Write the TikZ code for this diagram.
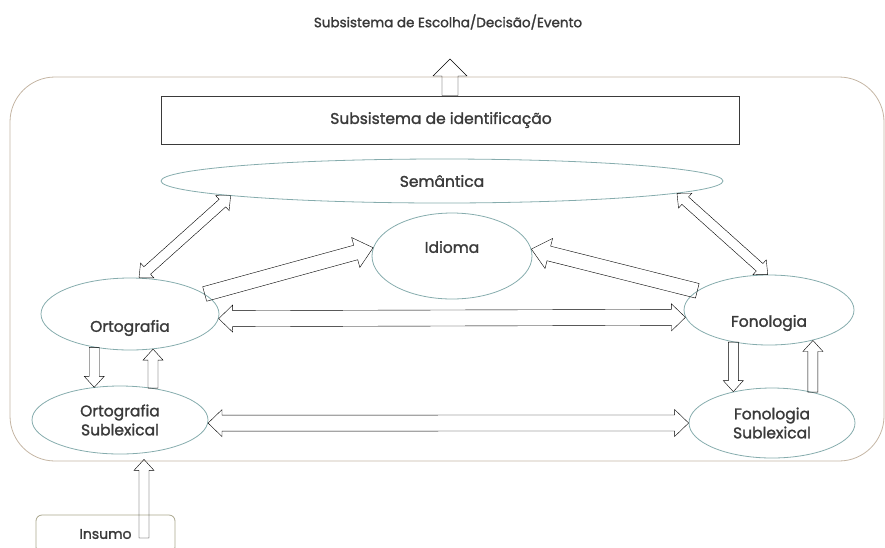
\documentclass[tikz,border=0pt]{standalone}
\usepackage{fontspec}
\setmainfont{Poppins}[FakeBold=1.5]
\usetikzlibrary{calc,positioning}
\usetikzlibrary{shapes.geometric}

\definecolor{ovalline}{HTML}{86ACAD}
\definecolor{frameline}{HTML}{C4B5A3}
\definecolor{boxline}{HTML}{A9A68C}
\definecolor{arrowgray}{HTML}{3A3A3A}
\definecolor{textgray}{HTML}{3A3A3A}

\tikzset{
  ba shaft/.store in=\bashaft, ba head/.store in=\bahead, ba tip/.store in=\batip,
  ba shaft=5pt, ba head=10pt, ba tip=13pt,
  block arrow/.style={draw=arrowgray, fill=white, line width=1pt,
    to path={
      ($(\tikztotarget)!\batip!(\tikztostart)$) coordinate (ba b)
      ($(\tikztostart)!\bashaft!90:(\tikztotarget)$) -- ($(ba b)!\bashaft!90:(\tikztotarget)$)
      -- ($(ba b)!\bahead!90:(\tikztotarget)$) -- (\tikztotarget)
      -- ($(ba b)!\bahead!-90:(\tikztotarget)$) -- ($(ba b)!\bashaft!-90:(\tikztotarget)$)
      -- ($(\tikztostart)!\bashaft!-90:(\tikztotarget)$) -- cycle}},
  double block arrow/.style={draw=arrowgray, fill=white, line width=1pt,
    to path={
      ($(\tikztostart)!\batip!(\tikztotarget)$) coordinate (ba a)
      ($(\tikztotarget)!\batip!(\tikztostart)$) coordinate (ba b)
      (\tikztostart) -- ($(ba a)!\bahead!90:(\tikztotarget)$) -- ($(ba a)!\bashaft!90:(\tikztotarget)$)
      -- ($(ba b)!\bashaft!90:(\tikztotarget)$) -- ($(ba b)!\bahead!90:(\tikztotarget)$) -- (\tikztotarget)
      -- ($(ba b)!\bahead!-90:(\tikztotarget)$) -- ($(ba b)!\bashaft!-90:(\tikztotarget)$)
      -- ($(ba a)!\bashaft!-90:(\tikztotarget)$) -- ($(ba a)!\bahead!-90:(\tikztotarget)$) -- cycle}}
}

\begin{document}
\begin{tikzpicture}
	[x=1pt,y=-1pt,
	every node/.style={text=textgray,font=\fontsize{15.5}{19}\selectfont},
	every label/.style={text=textgray,font=\fontsize{15.5}{19}\selectfont},
	oval/.style={shape=ellipse,draw=ovalline,line width=.8pt,inner sep=0pt,align=center},
	big/.style={ba shaft=8pt,ba head=17pt,ba tip=17pt},
	wide/.style={ba shaft=7.5pt,ba head=15.5pt,ba tip=18pt},
	mid/.style={ba shaft=8pt,ba head=13.5pt,ba tip=14pt},
	small/.style={ba shaft=5pt,ba head=10pt,ba tip=11pt}
	]
	\useasboundingbox (0,0) rectangle (885,547);
	\clip (0,0) rectangle (885,547);

	\draw[draw=frameline,line width=.8pt,rounded corners=45] (10,77) rectangle (884,461);

	\node [font=\fontsize{13.5}{16}\selectfont] (escolha) at (448,22) {Subsistema de Escolha/Decisão/Evento};
	\node [draw=arrowgray,line width=1pt,minimum width=578,minimum height=48,inner sep=0pt] (ident) at (450,120) {\hspace*{-18pt}Subsistema de identificação};

	\node [oval,minimum width=562,minimum height=44] (sem) at (442,181) {Semântica};
	\node [oval,minimum width=160,minimum height=86,label={[yshift=9pt]center:Idioma}] (idioma) at (452,256) {};
	\node [oval,minimum width=178,minimum height=72,label={[yshift=-14pt]center:Ortografia}] (orto) at (130,314) {};
	\node [oval,minimum width=170,minimum height=70,label={[yshift=-13pt]center:Fonologia}] (fono) at (769,310) {};
	\node [oval,minimum width=176,minimum height=68] (osub) at (120,420) {Ortografia\\Sublexical};
	\node [oval,minimum width=166,minimum height=70] (fsub) at (772,423) {Fonologia\\Sublexical};

	\node [draw=boxline,line width=.8pt,rounded corners=6,minimum width=139,minimum height=38,font=\fontsize{14}{17}\selectfont] (insumo) at (105.5,534) {Insumo};

	\coordinate (saida) at (450,59);
	\coordinate (insumo out) at (144,538);

	% setas
	\draw[big] (ident.north) to[block arrow] (saida);
	\draw[small] (insumo out) to[block arrow] ([yshift=-5pt]insumo out |- osub.south);

	\draw[small] (orto.76) to[double block arrow] (sem.184);
	\draw[small] (fono.92) to[double block arrow] (sem.-3);
	\draw[wide] (orto.15) to[block arrow] (idioma.174);
	\draw[wide] (fono.165) to[block arrow] (idioma.5);
	\draw[mid] (orto.-3) to[double block arrow] (fono.185);
	\draw[mid] (osub.-2) to[double block arrow] (fsub.180);

	\draw[small] (orto.223) to[block arrow] (orto.223 |- osub.130);
	\draw[small] (osub.44) to[block arrow] (osub.44 |- orto.-56);
	\draw[small] (fono.222) to[block arrow] (fono.222 |- fsub.141);
	\draw[small] (fsub.37) to[block arrow] (fsub.37 |- fono.-35);

\end{tikzpicture}
\end{document}
